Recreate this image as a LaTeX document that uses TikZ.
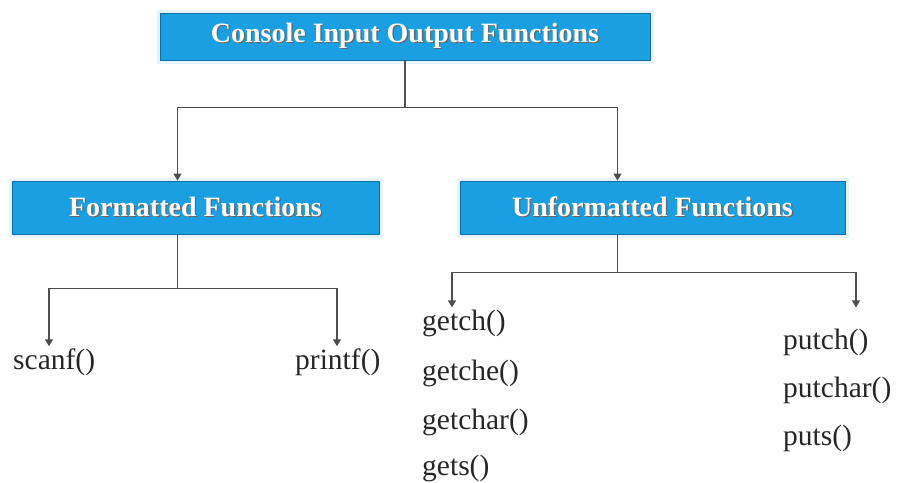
\documentclass[tikz,border=0pt]{standalone}
\usepackage{fontspec}
\setmainfont{Liberation Serif}
\usetikzlibrary{positioning,calc,arrows.meta}
\definecolor{boxblue}{RGB}{26,160,226}
\definecolor{boxedge}{RGB}{20,110,160}
\definecolor{wiregray}{RGB}{78,78,78}
% white heading text with a dark drop shadow
\newcommand{\shtxt}[1]{\makebox[0pt][l]{\kern1.3pt\raisebox{-1.3pt}{\color{black!60}#1}}{\color{white}#1}}
\tikzset{
  hbox/.style = {draw=boxedge, line width=0.8pt, fill=boxblue, inner sep=0pt,
                 preaction={draw=boxblue!12, line width=7pt},
                 font=\bfseries\fontsize{28}{32}\selectfont},
  link/.style = {draw=wiregray, line width=1.4pt},
  arr/.style  = {link, -{Triangle[width=8pt,length=7pt]}},
  fn/.style   = {anchor=west, inner sep=0pt, text=black!85,
                 font=\fontsize{29.5}{32}\selectfont},
}

\begin{document}
\begin{tikzpicture}[x=1pt,y=-1pt]
  \useasboundingbox (0,0) rectangle (907,482);
  \node[hbox, minimum width=490pt, minimum height=47pt] (cio) at (405,36.5)
    {\shtxt{Console Input Output Functions}};
  \node[hbox, minimum width=367pt, minimum height=53pt] (fmt) at (195.5,207.5)
    {\shtxt{Formatted Functions}};
  \node[hbox, minimum width=385pt, minimum height=53pt] (ufmt) at (652.5,207.5)
    {\shtxt{Unformatted Functions}};

  % leaves
  \node[fn] (scanf)   at (13,362)  {scanf()};
  \node[fn] (printf)  at (295,362) {printf()};
  \node[fn] (getch)   at (422,323) {getch()};
  \node[fn] (getche)  at (422,373) {getche()};
  \node[fn] (getchar) at (422,422) {getchar()};
  \node[fn] (gets)    at (422,468) {gets()};
  \node[fn] (putch)   at (783,342) {putch()};
  \node[fn] (putchar) at (783,390) {putchar()};
  \node[fn] (puts)    at (783,438) {puts()};

  \draw[link] (cio.south) -- ++(0,47) coordinate (cj);
  \draw[arr] (cj) -| ($(fmt.north)+(-18,0)$);
  \draw[arr] (cj) -| ($(ufmt.north)+(-35,0)$);

  \draw[link] ($(fmt.south)+(-18,0)$) -- ++(0,54) coordinate (fj);
  \draw[arr] (fj) -| ($(scanf.north west)+(36,-2)$);
  \draw[arr] (fj) -| ($(printf.north west)+(42,-2)$);

  \draw[link] ($(ufmt.south)+(-35,0)$) -- ++(0,38) coordinate (uj);
  \draw[arr] (uj) -| ($(getch.north west)+(30,-2)$);
  \draw[arr] (uj) -| ($(putch.north west)+(73,-21)$);
\end{tikzpicture}
\end{document}
